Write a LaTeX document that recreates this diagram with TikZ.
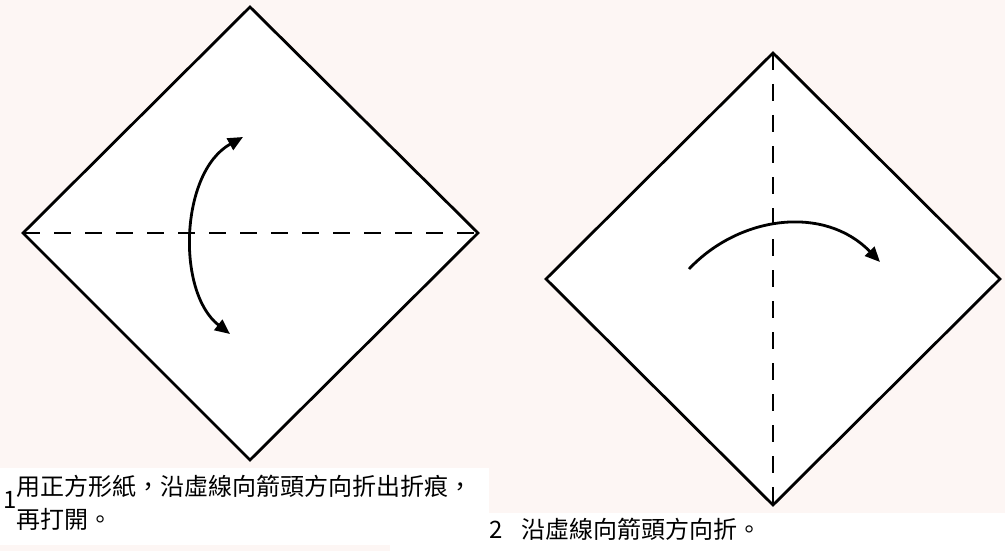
\documentclass[tikz,border=0pt]{standalone}
\usepackage{fontspec}
\setmainfont{Noto Sans CJK TC}
\usetikzlibrary{arrows.meta}
\definecolor{bgpink}{RGB}{253,246,244}
\begin{document}
\begin{tikzpicture}[
        x=1pt, y=-1pt,
        paper/.style={draw, fill=white, line width=2.8pt, line join=miter},
        crease/.style={line width=2.8pt, dash pattern=on 17pt off 14pt},
        turn/.style={line width=2.8pt, -{Triangle[length=15pt,width=13pt]}},
        turnboth/.style={line width=2.8pt, {Triangle[length=15pt,width=13pt]}-{Triangle[length=15pt,width=13pt]}},
        caption/.style={anchor=base west, inner sep=0pt, font=\fontsize{24}{33}\selectfont},
    ]
    \useasboundingbox (0,0) rectangle (1005,551);
    % background and caption boxes
    \fill[bgpink] (0,0) rectangle (1005,551);
    \fill[white] (0,468) rectangle (489,545);
    \fill[white] (489,513) rectangle (1005,551);
    \fill[white] (390,545) rectangle (489,551);

    % step 1
    \coordinate (aT) at (250,7);
    \coordinate (aR) at (478,233);
    \coordinate (aB) at (250,460);
    \coordinate (aL) at (23,233);
    \draw[paper] (aT) -- (aR) -- (aB) -- (aL) -- cycle;
    \draw[crease] (aL) -- (aR);
    \coordinate (aUp) at (243,137);
    \coordinate (aDown) at (230,334);
    \draw[turnboth] (aDown) .. controls (176,292) and (180,172) .. (aUp);

    % step 2
    \coordinate (bT) at (773,53);
    \coordinate (bR) at (1000,279);
    \coordinate (bB) at (773,505);
    \coordinate (bL) at (546,279);
    \draw[paper] (bT) -- (bR) -- (bB) -- (bL) -- cycle;
    \draw[crease] (bT) -- (bB);
    \coordinate (bStart) at (689,269);
    \coordinate (bEnd) at (880,262);
    \draw[turn] (bStart) .. controls (740,215) and (825,205) .. (bEnd);

    % captions
    \node[caption] (num1) at (3,508) {1};
    \node[caption] (cap1a) at (16,495) {用正方形紙，沿虛線向箭頭方向折出折痕，};
    \node[caption] (cap1b) at (16,528) {再打開。};
    \node[caption] (num2) at (489,538) {2};
    \node[caption] (cap2) at (521,538) {沿虛線向箭頭方向折。};
\end{tikzpicture}
\end{document}
